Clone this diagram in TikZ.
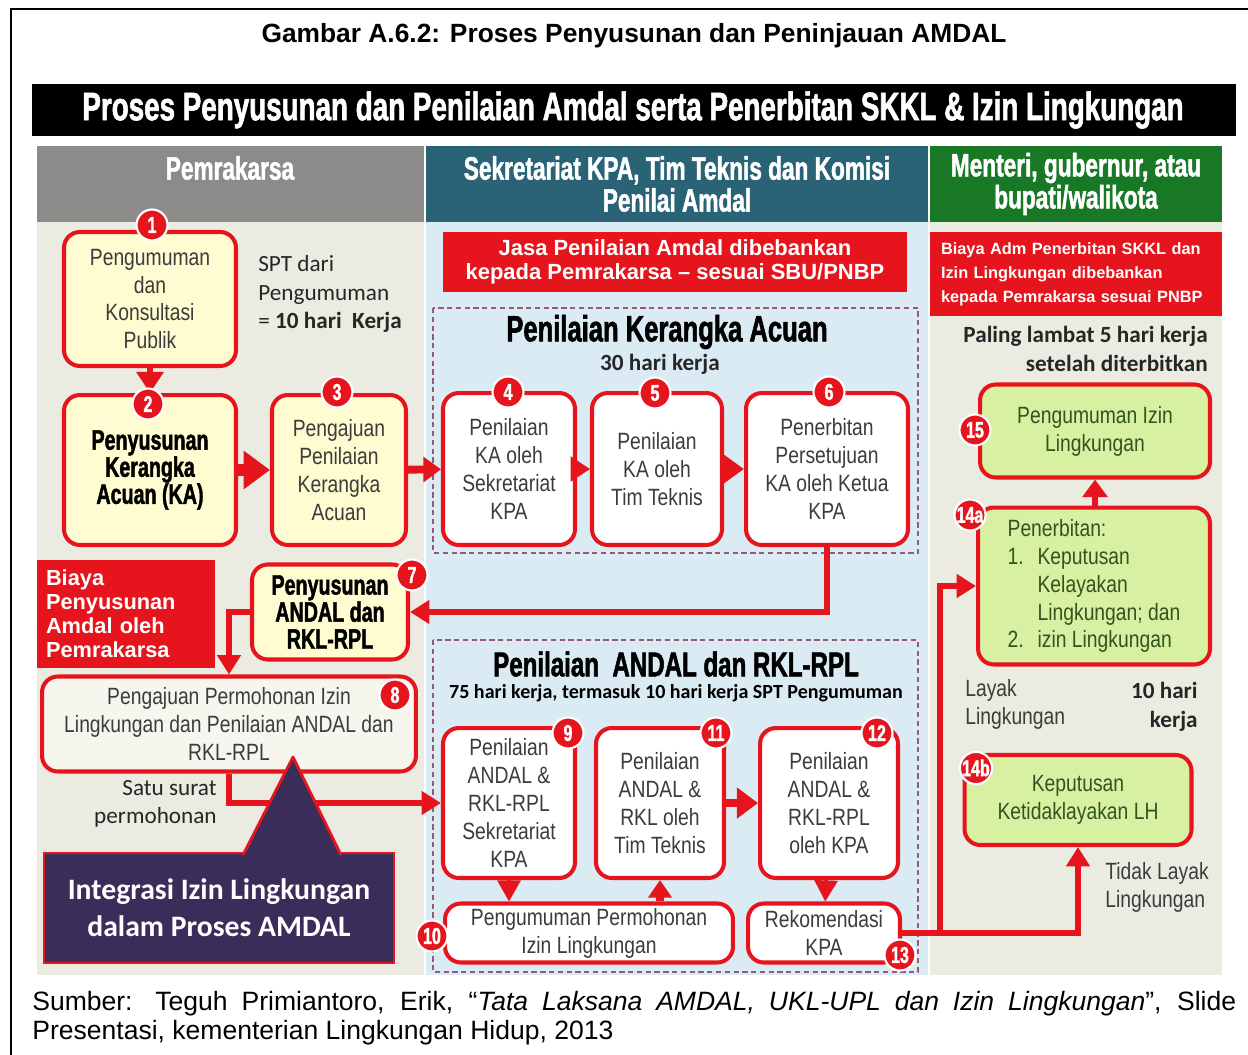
\documentclass[tikz,border=0pt]{standalone}
\usepackage{fontspec}
\setmainfont{Liberation Sans}
\newfontfamily\narrowfont[FakeStretch=0.82]{Liberation Sans}
\newfontfamily\impactfont[FakeStretch=0.7,FakeBold=1.5]{Liberation Sans}
\newfontfamily\calibrifont{Carlito}
\usetikzlibrary{arrows.meta,positioning}

\definecolor{amdred}{RGB}{230,20,28}
\definecolor{boxyellow}{RGB}{254,252,208}
\definecolor{boxgreen}{RGB}{216,240,162}
\definecolor{boxlight}{RGB}{246,245,238}
\definecolor{hdgray}{RGB}{140,139,137}
\definecolor{hdteal}{RGB}{42,99,118}
\definecolor{hdgreen}{RGB}{24,120,38}
\definecolor{bgbeige}{RGB}{236,235,226}
\definecolor{bgblue}{RGB}{219,235,243}
\definecolor{purplebox}{RGB}{58,45,90}
\definecolor{txtgray}{RGB}{60,60,60}
\definecolor{txtgreen}{RGB}{50,85,30}
\definecolor{dashcol}{RGB}{150,90,120}

\tikzset{
  stepbox/.style={draw=amdred, line width=2.3pt, rounded corners=9pt, fill=white,
    text=txtgray, align=center, inner sep=0pt,
    font=\narrowfont\fontsize{13.4}{15.9}\selectfont},
  yellowbox/.style={stepbox, fill=boxyellow},
  greenbox/.style={stepbox, fill=boxgreen, text=txtgreen},
  boldbox/.style={yellowbox, text=black, font=\impactfont\bfseries\fontsize{16}{15.4}\selectfont},
  badge/.style={circle, fill=amdred, draw=white, line width=1.2pt, inner sep=0pt,
    minimum size=0.62cm, text=white, font=\impactfont\bfseries\fontsize{13}{13}\selectfont},
  notebox/.style={fill=amdred, text=white, inner sep=0pt, font=\bfseries\fontsize{12.5}{13.7}\selectfont},
  header/.style={text=white, align=center, font=\impactfont\bfseries\fontsize{18.4}{18.2}\selectfont},
  calib/.style={text=black!85, inner sep=0pt, font=\calibrifont\fontsize{13.2}{16}\selectfont},
  plain/.style={text=txtgray, inner sep=0pt, font=\narrowfont\fontsize{13.4}{15.9}\selectfont},
  dashbox/.style={draw=dashcol, line width=0.7pt, densely dashed},
  flow/.style={draw=amdred, line width=3pt, -{Triangle[width=13pt,length=11pt]}},
  shortarrow/.style={draw=amdred, line width=2pt, -{Triangle[width=14pt,length=11pt]}},
  fatarrow/.style={draw=amdred, line width=7pt, -{Triangle[width=21pt,length=15pt]}},
}

\begin{document}
\begin{tikzpicture}[x=0.02cm,y=-0.02cm]
\useasboundingbox (0,0) rectangle (1248,1055);
\draw[line width=1.2pt] (11,1070) -- (11,9) -- (1260,9);

% title and banner
\node[font=\bfseries\fontsize{15}{18}\selectfont] (title) at (634,36) {Gambar A.6.2: Proses Penyusunan dan Peninjauan AMDAL};
\fill[black] (32,84) rectangle (1236,136);
\node[text=white, font=\impactfont\bfseries\fontsize{22.6}{24}\selectfont] (banner) at (633,110)
  {Proses Penyusunan dan Penilaian Amdal serta Penerbitan SKKL \& Izin Lingkungan};

% columns
\fill[bgbeige] (37,222) rectangle (424,975);
\fill[bgblue] (426,222) rectangle (928,975);
\fill[bgbeige] (930,222) rectangle (1222,975);
\fill[hdgray] (37,146) rectangle (424,222);
\fill[hdteal] (426,146) rectangle (928,222);
\fill[hdgreen] (930,146) rectangle (1222,222);
\node[header] (hpem) at (230,168) {Pemrakarsa};
\node[header] (hsek) at (677,184) {Sekretariat KPA, Tim Teknis dan Komisi\\Penilai Amdal};
\node[header] (hmen) at (1076,184) {Menteri, gubernur, atau\\bupati/walikota};

% dashed groups
\draw[dashbox] (433,308) rectangle (918,553);
\draw[dashbox] (433,640) rectangle (918,972);

% cost notes
\node[notebox, align=center, minimum width=9.28cm, minimum height=1.2cm] (jasa) at (675,262)
  {Jasa Penilaian Amdal dibebankan\\kepada Pemrakarsa -- sesuai SBU/PNBP};
\node[notebox, align=left, minimum width=3.56cm, minimum height=2.16cm, text width=3.2cm,
  font=\bfseries\fontsize{12.4}{13.7}\selectfont] (biaya) at (126,614)
  {Biaya\\Penyusunan\\Amdal oleh\\Pemrakarsa};
\node[notebox, align=left, minimum width=5.84cm, minimum height=1.68cm, text width=5.4cm,
  font=\bfseries\fontsize{9.3}{13.7}\selectfont] (biayaadm) at (1076,274)
  {Biaya Adm Penerbitan SKKL dan\\Izin Lingkungan dibebankan\\kepada Pemrakarsa sesuai PNBP};

% Pemrakarsa column
\node[yellowbox, minimum width=3.44cm, minimum height=2.68cm] (box1) at (150,299)
  {Pengumuman\\dan\\Konsultasi\\Publik};
\node[boldbox, minimum width=3.44cm, minimum height=3cm] (box2) at (150,470)
  {Penyusunan\\Kerangka\\Acuan (KA)};
\node[yellowbox, minimum width=2.68cm, minimum height=3cm] (box3) at (339,470)
  {Pengajuan\\Penilaian\\Kerangka\\Acuan};
\node[calib, anchor=west, align=left] (spt) at (258,294)
  {SPT dari\\Pengumuman\\= \textbf{10 hari\ \ Kerja}};
\node[boldbox, minimum width=3.12cm, minimum height=1.9cm] (box7) at (330,612)
  {Penyusunan\\ANDAL dan\\RKL-RPL};
\node[stepbox, fill=boxlight, minimum width=7.48cm, minimum height=1.9cm] (box8) at (229,724)
  {Pengajuan Permohonan Izin\\Lingkungan dan Penilaian ANDAL dan\\RKL-RPL};
\node[calib, anchor=east, align=right] (surat) at (217,804) {Satu surat\\permohonan};

% Penilaian Kerangka Acuan
\node[font=\impactfont\bfseries\fontsize{20.8}{22}\selectfont] (pka) at (667,332) {Penilaian Kerangka Acuan};
\node[calib, font=\calibrifont\bfseries\fontsize{13.2}{16}\selectfont] (hari30) at (660,364) {30 hari kerja};
\node[stepbox, minimum width=2.64cm, minimum height=3.04cm] (box4) at (509,469)
  {Penilaian\\KA oleh\\Sekretariat\\KPA};
\node[stepbox, minimum width=2.6cm, minimum height=3.04cm] (box5) at (657,469)
  {Penilaian\\KA oleh\\Tim Teknis};
\node[stepbox, minimum width=3.24cm, minimum height=3.04cm] (box6) at (827,469)
  {Penerbitan\\Persetujuan\\KA oleh Ketua\\KPA};

% Penilaian ANDAL dan RKL-RPL
\node[font=\impactfont\bfseries\fontsize{19.6}{22}\selectfont] (pandal) at (676,664) {Penilaian\ \ ANDAL dan RKL-RPL};
\node[font=\calibrifont\bfseries\fontsize{11.4}{14}\selectfont] (hari75) at (676,693)
  {75 hari kerja, termasuk 10 hari kerja SPT Pengumuman};
\node[stepbox, minimum width=2.64cm, minimum height=3cm] (box9) at (509,803)
  {Penilaian\\ANDAL \&\\RKL-RPL\\Sekretariat\\KPA};
\node[stepbox, minimum width=2.56cm, minimum height=3cm] (box11) at (660,803)
  {Penilaian\\ANDAL \&\\RKL oleh\\Tim Teknis};
\node[stepbox, minimum width=2.76cm, minimum height=3cm] (box12) at (829,803)
  {Penilaian\\ANDAL \&\\RKL-RPL\\oleh KPA};
\node[stepbox, minimum width=5.76cm, minimum height=1.18cm] (box10) at (589,933)
  {Pengumuman Permohonan\\Izin Lingkungan};
\node[stepbox, minimum width=3.04cm, minimum height=1.18cm] (box13) at (824,933)
  {Rekomendasi\\KPA};

% Menteri column
\node[calib, font=\calibrifont\bfseries\fontsize{13.2}{16.4}\selectfont, anchor=east, align=right] (lambat) at (1208,349)
  {Paling lambat 5 hari kerja\\setelah diterbitkan};
\node[greenbox, minimum width=4.6cm, minimum height=1.86cm] (box15) at (1095,431)
  {Pengumuman Izin\\Lingkungan};
\node[greenbox, align=left, minimum width=4.64cm, minimum height=3.14cm] (box14a) at (1094,586)
  {Penerbitan:\\\makebox[0.6cm][l]{1.}Keputusan\\\hspace*{0.6cm}Kelayakan\\\hspace*{0.6cm}Lingkungan; dan\\\makebox[0.6cm][l]{2.}izin Lingkungan};
\node[plain, anchor=west, align=left] (layak) at (965,704) {Layak\\Lingkungan};
\node[calib, anchor=east, align=right, font=\calibrifont\bfseries\fontsize{13.2}{16.4}\selectfont] (hari10) at (1198,707)
  {10 hari\\kerja};
\node[greenbox, minimum width=4.54cm, minimum height=1.8cm] (box14b) at (1078,800)
  {Keputusan\\Ketidaklayakan LH};
\node[plain, anchor=west, align=left] (tidak) at (1105,887) {Tidak Layak\\Lingkungan};

% connectors
\draw[shortarrow, line width=3pt, -{Triangle[width=15pt,length=12pt]}] (box1) -- (box2);
\draw[fatarrow] (box2) -- (box3);
\draw[draw=amdred, line width=4.5pt, -{Triangle[width=14pt,length=10pt]}] (box3) -- (box4);
\draw[shortarrow] (box4) -- (box5);
\draw[shortarrow, line width=4pt, -{Triangle[width=17pt,length=12.5pt]}] (box5) -- (box6);
\draw[flow] (box6.south) |- (box7.east);
\draw[flow] (box7.west) -| (box8.north);
\draw[flow] (box8.south) |- (box9.west);
\draw[shortarrow, -{Triangle[width=13pt,length=12pt]}] (box9) -- (box10.north -| box9);
\draw[draw=amdred, line width=4.5pt, -{Triangle[width=13pt,length=10pt]}] (box10.north -| box11) -- (box11);
\draw[shortarrow, line width=5pt, -{Triangle[width=17pt,length=12pt]}] (box11) -- (box12);
\draw[shortarrow, -{Triangle[width=13pt,length=12pt]}] (box12) -- (box13);
\coordinate (split) at (940,933);
\draw[draw=amdred, line width=3pt] (box13.east) -- (split);
\draw[flow] (split) |- (box14a.west);
\draw[flow] (split) -| (box14b.south);
\draw[draw=amdred, line width=3pt, -{Triangle[width=14pt,length=10pt]}] (box14a.north -| box15) -- (box15);

% integration callout
\node[draw=amdred, line width=1.6pt, fill=purplebox, text=white, minimum width=7cm, minimum height=2.2cm,
  font=\calibrifont\bfseries\fontsize{16.9}{21}\selectfont, align=center] (integ) at (219,908)
  {Integrasi Izin Lingkungan\\dalam Proses AMDAL};
\fill[purplebox] (293,757) -- (242,860) -- (342,860) -- cycle;
\draw[amdred, line width=1.6pt, line join=round] (243,855) -- (293,757) -- (341,855);

% badges
\foreach \pos/\num in {{(152,225)}/1, {(148,404)}/2, {(337,392)}/3, {(508,392)}/4, {(655,393)}/5,
  {(829,392)}/6, {(412,575)}/7, {(395,695)}/8, {(568,733)}/9, {(432,936)}/10, {(716,733)}/11,
  {(877,733)}/12, {(900,955)}/13, {(970,515)}/14a, {(976,768)}/14b, {(975,430)}/15}
  \node[badge] (b\num) at \pos {\num};

% source
\node[anchor=north west, text width=24.08cm, align=justify, inner sep=0pt,
  font=\fontsize{15.1}{16.2}\selectfont] (source) at (32,991)
  {Sumber: Teguh Primiantoro, Erik, “\textit{Tata Laksana AMDAL, UKL-UPL dan Izin Lingkungan}”, Slide\linebreak
  Presentasi, kementerian Lingkungan Hidup, 2013};
\end{tikzpicture}
\end{document}
